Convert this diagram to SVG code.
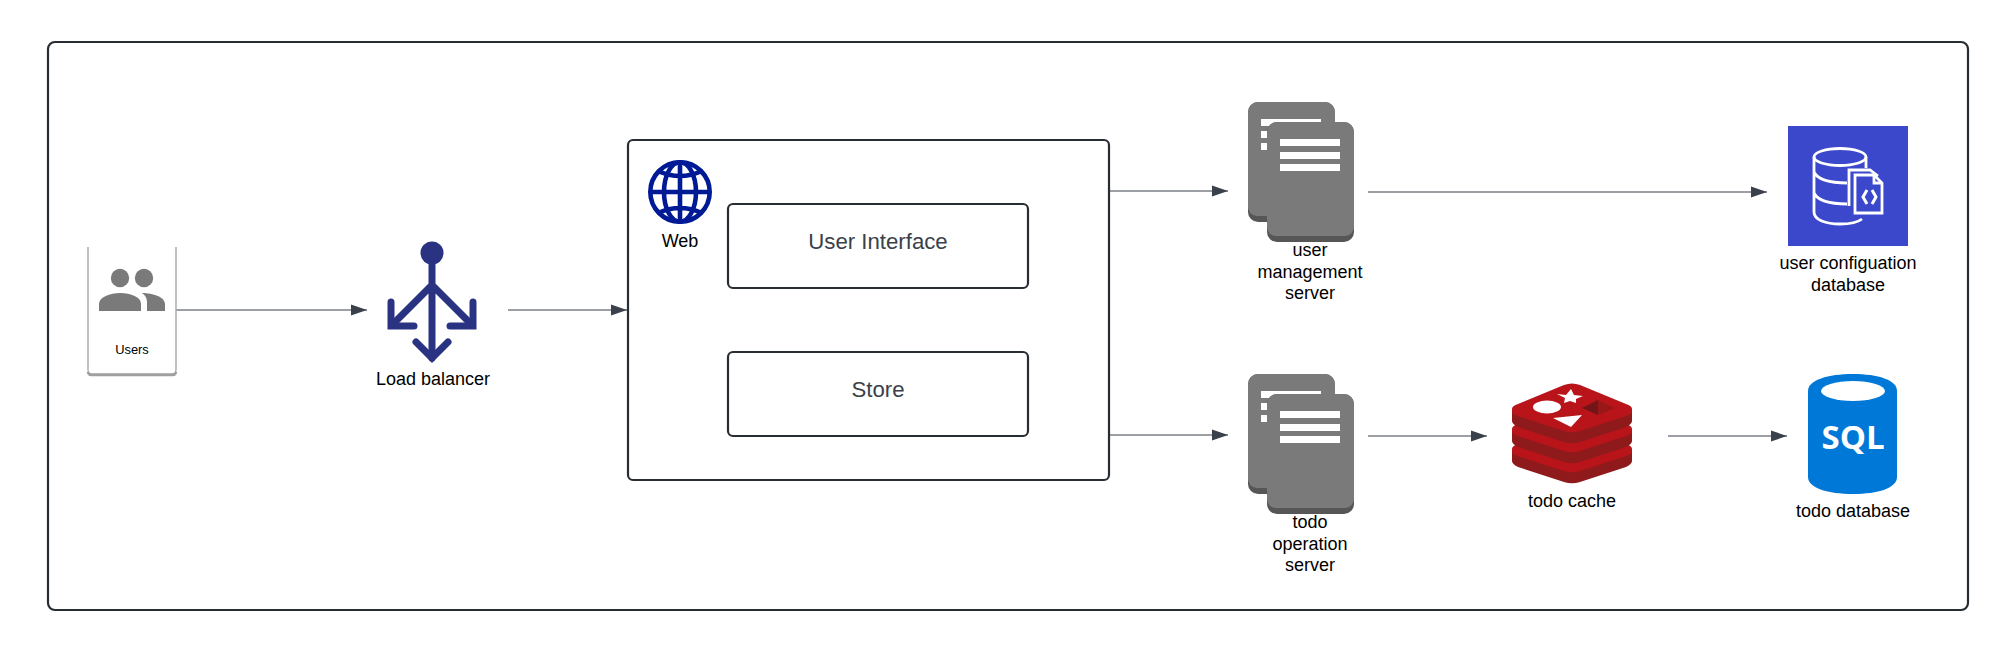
<svg xmlns="http://www.w3.org/2000/svg" width="2008" height="651" viewBox="0 0 2008 651">
<style>
text{font-family:"Liberation Sans",Arial,sans-serif;text-anchor:middle;fill:#000}
.l{font-size:18px}
.b{font-size:22.2px;fill:#3a414a}
.box{fill:#fff;stroke:#282c33;stroke-width:2.2}
.c{fill:none;stroke:#3a414a;stroke-width:1.2;marker-end:url(#a)}
.lb{fill:none;stroke:#2a3282;stroke-width:7;stroke-linecap:round}
.g{fill:none;stroke:#001a96;stroke-width:4.6}
</style>
<defs>
<marker id="a" markerUnits="userSpaceOnUse" markerWidth="16" markerHeight="12" refX="16" refY="6" orient="auto"><path d="M0 0.5L16 6L0 11.5Z" fill="#3a414a"/></marker>
<g id="srv">
<path d="M1248 207V112a10 10 0 0 1 10-10h67a10 10 0 0 1 10 10v100a10 10 0 0 1-10 10h-67a10 10 0 0 1-10-10z" fill="#565656"/>
<path d="M1248 207V112a10 10 0 0 1 10-10h67a10 10 0 0 1 10 10v95a9 9 0 0 1-9 9h-69a9 9 0 0 1-9-9z" fill="#7a7a7a"/>
<path d="M1261 119h60v7h-60zM1261 131h6v7h-6zM1261 143h6v7h-6z" fill="#fff"/>
<path d="M1267 227V132a10 10 0 0 1 10-10h67a10 10 0 0 1 10 10v100a10 10 0 0 1-10 10h-67a10 10 0 0 1-10-10z" fill="#565656"/>
<path d="M1267 227V132a10 10 0 0 1 10-10h67a10 10 0 0 1 10 10v95a9 9 0 0 1-9 9h-69a9 9 0 0 1-9-9z" fill="#7a7a7a"/>
<path d="M1280 139h60v7h-60zM1280 152h60v7h-60zM1280 164h60v7h-60z" fill="#fff"/>
</g>
<g id="layer">
<path d="M1512 410V421Q1512 424 1518 427L1564 442Q1572 444.500 1580 442L1626 427Q1632 424 1632 421V410Z" fill="#8f1a1c"/>
<path d="M1512 409Q1512 406 1518 404L1564 385Q1572 382 1580 385L1626 404Q1632 406 1632 409V412Q1632 414 1626 416L1580 431Q1572 433.500 1564 431L1518 416Q1512 414 1512 412Z" fill="#b9141a"/>
</g>
</defs>
<rect width="2008" height="651" fill="#fff"/>
<rect id="frame" x="48" y="42" width="1920" height="568" rx="7" class="box"/>
<g id="connectors">
<path class="c" d="M176 310H367"/>
<path class="c" d="M508 310H627"/>
<path class="c" d="M1110 191H1228"/>
<path class="c" d="M1110 435H1228"/>
<path class="c" d="M1368 192H1767"/>
<path class="c" d="M1368 436H1487"/>
<path class="c" d="M1668 436H1787"/>
</g>
<g id="users">
<path d="M88 247V370a4 4 0 0 0 4 4h80a4 4 0 0 0 4-4V247" fill="#fff" stroke="#a8a8a8" stroke-width="1.4"/>
<path d="M88 372a3 3 0 0 0 3 3h82a3 3 0 0 0 3-3" fill="none" stroke="#a0a0a0" stroke-width="2.4"/>
<circle cx="120" cy="278" r="9.200" fill="#7a7a7a"/>
<circle cx="144" cy="278" r="9.200" fill="#7a7a7a"/>
<path d="M99 311V304C99 297 110 293 120 293C131 293 141 297 141 304V311Z" fill="#7a7a7a"/>
<path d="M147 311V302C147 298 145 295 142 293C153 293 165 297 165 304V311Z" fill="#7a7a7a"/>
<text x="132" y="354" style="font-size:12.900px">Users</text>
</g>
<g id="load-balancer">
<circle cx="432" cy="253" r="11.500" fill="#2a3282"/>
<path class="lb" d="M432 260V358M432 285L393 324M432 285L471 324"/>
<path class="lb" d="M391 302V326H414M473 302V326H450M416 342L432 358L448 342"/>
<text class="l" x="433" y="385">Load balancer</text>
</g>
<g id="web">
<rect x="628" y="140" width="481" height="340" rx="5" class="box"/>
<circle class="g" cx="680" cy="192" r="29.700"/>
<ellipse class="g" cx="680" cy="192" rx="16" ry="29.700"/>
<path class="g" d="M680 162V222M650 192H710M658 171Q680 181 702 171M658 213Q680 203 702 213"/>
<text class="l" x="680" y="247">Web</text>
</g>
<g id="user-interface"><rect x="728" y="204" width="300" height="84" rx="5" class="box"/><text class="b" x="878" y="249">User Interface</text></g>
<g id="store"><rect x="728" y="352" width="300" height="84" rx="5" class="box"/><text class="b" x="878" y="397">Store</text></g>
<g id="user-management-server">
<use href="#srv"/>
<text class="l" x="1310" y="256">user</text><text class="l" x="1310" y="278">management</text><text class="l" x="1310" y="299">server</text>
</g>
<g id="todo-operation-server">
<use href="#srv" y="272"/>
<text class="l" x="1310" y="528">todo</text><text class="l" x="1310" y="550">operation</text><text class="l" x="1310" y="571">server</text>
</g>
<g id="user-configuation-database">
<rect x="1788" y="126" width="120" height="120" fill="#3b48cc"/>
<g fill="none" stroke="#fff" stroke-width="2.800">
<ellipse cx="1840" cy="157" rx="26" ry="8.500"/>
<path d="M1814 157V212C1814 220 1826 224 1840 224C1849 224 1857 223 1862 219M1866 157V168M1814 172C1818 180 1830 183 1847 183M1814 193C1818 201 1830 204 1847 204"/>
<path d="M1849 206V170H1870L1878 176"/>
<path d="M1855 213V175H1874L1882 183V213Z" fill="#3b48cc"/>
<path d="M1874 175V183H1882"/>
<path stroke-width="3" d="M1867 190L1863 197L1867 204M1872 190L1876 197L1872 204"/>
</g>
<text class="l" x="1848" y="269">user configuation</text><text class="l" x="1848" y="291">database</text>
</g>
<g id="todo-cache">
<use href="#layer" y="40"/>
<use href="#layer" y="20"/>
<use href="#layer"/>
<path d="M1557 394L1566 395L1571 389L1574 395L1583 396L1576 399L1576 403L1570 401L1564 403L1565 398Z" fill="#fff"/>
<ellipse cx="1547" cy="407" rx="14" ry="6.500" fill="#fff"/>
<path d="M1553 418L1582 415L1571 427Z" fill="#fff"/>
<path d="M1582 408L1598 400L1598 415Z" fill="#731416"/>
<path d="M1598 400L1615 408L1598 415Z" fill="#9a1719"/>
<text class="l" x="1572" y="507">todo cache</text>
</g>
<g id="todo-database">
<path d="M1808 391C1808 380 1828 374 1853 374C1878 374 1897 380 1897 391V477C1897 488 1878 494 1853 494C1828 494 1808 488 1808 477Z" fill="#0078d7"/>
<ellipse cx="1853" cy="391" rx="32" ry="10" fill="#fff"/>
<text x="1853" y="449" style="font-family:'Open Sans','Liberation Sans',sans-serif;font-size:33px;font-weight:700;fill:#fff">SQL</text>
<text class="l" x="1853" y="517">todo database</text>
</g>
</svg>
